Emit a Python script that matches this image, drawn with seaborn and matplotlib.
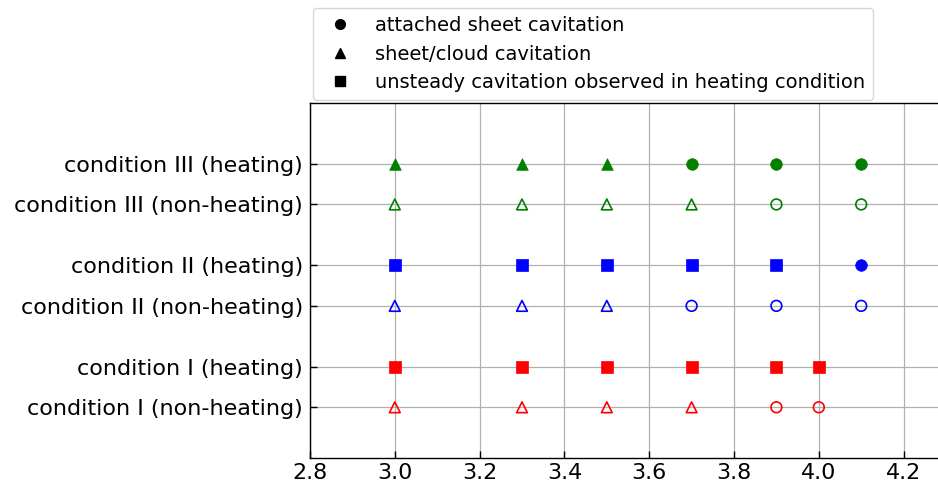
import matplotlib
matplotlib.use('Agg')
import matplotlib.pyplot as plt
from matplotlib.lines import Line2D
import seaborn as sns
import pandas as pd

# condition rows (bottom to top) and their y positions
conditions = ['condition I (non-heating)', 'condition I (heating)',
              'condition II (non-heating)', 'condition II (heating)',
              'condition III (non-heating)', 'condition III (heating)']
y_pos = [0, 1, 2.5, 3.5, 5, 6]
colors = ['red', 'red', 'blue', 'blue', 'green', 'green']
filled = [False, True, False, True, False, True]

# x values for each row and cavitation type (o = sheet, ^ = sheet/cloud, s = unsteady)
x_vals = [
    [3.0, 3.3, 3.5, 3.7, 3.9, 4.0],
    [3.0, 3.3, 3.5, 3.7, 3.9, 4.0],
    [3.0, 3.3, 3.5, 3.7, 3.9, 4.1],
    [3.0, 3.3, 3.5, 3.7, 3.9, 4.1],
    [3.0, 3.3, 3.5, 3.7, 3.9, 4.1],
    [3.0, 3.3, 3.5, 3.7, 3.9, 4.1],
]
kinds = [
    ['^', '^', '^', '^', 'o', 'o'],
    ['s', 's', 's', 's', 's', 's'],
    ['^', '^', '^', 'o', 'o', 'o'],
    ['s', 's', 's', 's', 's', 'o'],
    ['^', '^', '^', '^', 'o', 'o'],
    ['^', '^', '^', 'o', 'o', 'o'],
]
legend_labels = ['attached sheet cavitation', 'sheet/cloud cavitation',
                 'unsteady cavitation observed in heating condition']

rows = []
for i in range(len(conditions)):
    for x, k in zip(x_vals[i], kinds[i]):
        rows.append({'x': x, 'y': y_pos[i], 'kind': k, 'row': i})
df = pd.DataFrame(rows)

sns.set_style('ticks')
plt.rcParams['font.family'] = ['DejaVu Sans']
plt.rcParams['text.color'] = 'black'

fig = plt.figure(figsize=(9.38, 4.92), dpi=100)
ax = fig.add_axes([310/938, 34/492, 636/938, 355/492])

for i in range(len(conditions)):
    sub = df[df['row'] == i]
    for k in ['o', '^', 's']:
        part = sub[sub['kind'] == k]
        if part.empty:
            continue
        if filled[i]:
            sns.scatterplot(data=part, x='x', y='y', marker=k, s=70,
                            color=colors[i], edgecolor=colors[i], linewidth=0.5,
                            ax=ax, zorder=3)
        else:
            sns.scatterplot(data=part, x='x', y='y', marker=k, s=60,
                            facecolors='none', edgecolor=colors[i], linewidth=1.2,
                            ax=ax, zorder=3)

ax.set_xlim(2.8, 4.3)
ax.set_ylim(-1.25, 7.5)
ax.set_xticks([2.8, 3.0, 3.2, 3.4, 3.6, 3.8, 4.0, 4.2])
ax.set_yticks(y_pos)
ax.set_yticklabels(conditions)
ax.set_xlabel('')
ax.set_ylabel('')
ax.grid(True, color='#b0b0b0', linewidth=0.9)
ax.set_axisbelow(True)
ax.tick_params(direction='in', labelsize=16, length=5, width=1,
               colors='black', labelcolor='black')
ax.tick_params(axis='y', pad=5)
for sp in ax.spines.values():
    sp.set_color('black')
    sp.set_linewidth(1)

handles = [Line2D([], [], marker=m, color='black', linestyle='none', markersize=7)
           for m in ['o', '^', 's']]
ax.legend(handles, legend_labels, loc='lower left', bbox_to_anchor=(0, 1.0),
          fontsize=14, borderaxespad=0.15, handletextpad=0.8, frameon=True,
          labelcolor='black')

fig.savefig('out.png', dpi=100)
